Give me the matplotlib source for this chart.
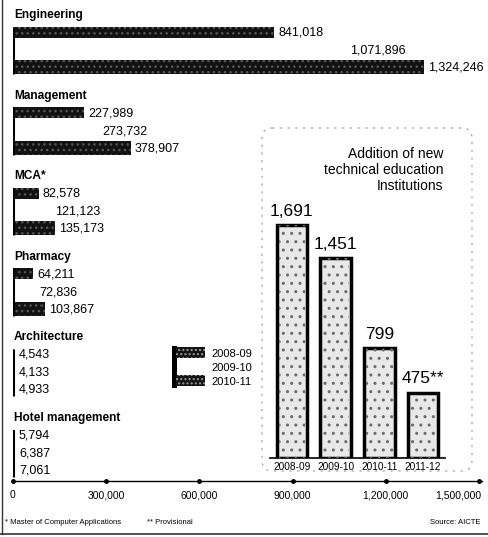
import matplotlib
matplotlib.use("Agg")
import matplotlib.pyplot as plt
from matplotlib import font_manager as fm
from matplotlib.patches import Rectangle, FancyBboxPatch

# ---------------- data ----------------
categories = ["Engineering", "Management", "MCA*", "Pharmacy", "Architecture", "Hotel management"]
years = ["2008-09", "2009-10", "2010-11"]
v_2008_09 = [841018, 227989, 82578, 64211, 4543, 5794]
v_2009_10 = [1071896, 273732, 121123, 72836, 4133, 6387]
v_2010_11 = [1324246, 378907, 135173, 103867, 4933, 7061]
x_ticks = [0, 300000, 600000, 900000, 1200000, 1500000]
x_tick_labels = ["0", "300,000", "600,000", "900,000", "1,200,000", "1,500,000"]

inst_years = ["2008-09", "2009-10", "2010-11", "2011-12"]
inst_values = [1691, 1451, 799, 475]
inst_labels = ["1,691", "1,451", "799", "475**"]

# ---------------- fonts ----------------
def pick(names):
    for n in names:
        try:
            fm.findfont(fm.FontProperties(family=n), fallback_to_default=False)
            return n
        except Exception:
            pass
    return "DejaVu Sans"

FONT = pick(["Liberation Sans Narrow", "Liberation Sans", "DejaVu Sans"])
plt.rcParams["font.family"] = [FONT, "DejaVu Sans"]

W, H = 489, 537
fig = plt.figure(figsize=(W / 100, H / 100), dpi=100)
fig.patch.set_facecolor("white")

def fx(px):
    return px / W

def fy(py):
    return 1 - py / H

DARK = "#121212"
SPECK = "#585858"

# ---------------- main horizontal bar chart ----------------
ax_left, ax_right, ax_top, ax_bot = 13, 479, 0, 481
ax = fig.add_axes([fx(ax_left), fy(ax_bot), fx(ax_right - ax_left), (ax_bot - ax_top) / H])
ax.set_xlim(0, 1500000)
ax.set_ylim(ax_bot, ax_top)
ax.axis("off")

group_top = 15.0
group_step = 80.6
bar_offsets = [17, 35, 52]
bar_h = [11, 14, 14]
series = [v_2008_09, v_2009_10, v_2010_11]
fills = [DARK, "white", DARK]

for gi, cat in enumerate(categories):
    yt = group_top + gi * group_step
    ax.text(3000, yt, cat, fontsize=8.6, fontweight="bold", va="center", ha="left",
            color="black")
    for si in range(3):
        yc = yt + bar_offsets[si]
        val = series[si][gi]
        ax.barh(yc, val, height=bar_h[si], color=fills[si], linewidth=0, zorder=2)
        if si != 1:
            ax.barh(yc, val, height=bar_h[si], color="none", edgecolor=SPECK,
                    hatch="...", linewidth=0, zorder=3)
        ax.text(val + 13000, yc + 0.5, f"{val:,}", fontsize=9, va="center", ha="left",
                color="black")
    # left bracket line
    ax.plot([0, 0], [yt + bar_offsets[0] - bar_h[0] / 2, yt + bar_offsets[2] + bar_h[2] / 2],
            color="black", lw=2.2, solid_capstyle="butt", zorder=4)

# x axis line with dots
ax.plot([0, 1510000], [ax_bot - 0.5, ax_bot - 0.5], color="black", lw=1.0, clip_on=False)
ax.plot(x_ticks, [ax_bot - 0.5] * len(x_ticks), "o", color="black", ms=2.5, clip_on=False)
for i, (t, lab) in enumerate(zip(x_ticks, x_tick_labels)):
    ha = "center"
    if i == len(x_ticks) - 1:
        ha = "right"
    ax.text(t + (9000 if ha == "right" else 0), ax_bot + 14, lab, fontsize=7.5,
            ha=ha, va="center", clip_on=False)

# ---------------- overlay (pixel coords) ----------------
ov = fig.add_axes([0, 0, 1, 1], zorder=5)
ov.set_xlim(0, W)
ov.set_ylim(H, 0)
ov.axis("off")
ov.patch.set_alpha(0)

# dashed rounded box for inset
box = FancyBboxPatch((262, 128), 210, 343, boxstyle="round,pad=0,rounding_size=10",
                     fill=False, edgecolor="#999999", lw=0.8, linestyle=(0, (2, 5)))
ov.add_patch(box)
ov.text(443, 170, "Addition of new\ntechnical education\nInstitutions", fontsize=10,
        ha="right", va="center", linespacing=1.2, color="black")

# legend
ov.add_patch(Rectangle((172, 346), 5, 42, color="black", lw=0))
for yy in (347, 375):
    ov.add_patch(Rectangle((176, yy), 29, 11, facecolor=DARK, lw=0))
    ov.add_patch(Rectangle((176, yy), 29, 11, facecolor="none", edgecolor="#9a9a9a",
                           hatch="....", lw=0))
for lab, yy in zip(years, (354, 368, 382)):
    ov.text(211, yy, lab, fontsize=8, ha="left", va="center")

# footnotes
ov.text(5, 522, "* Master of Computer Applications", fontsize=5.5, ha="left", va="center")
ov.text(147, 522, "** Provisional", fontsize=5.5, ha="left", va="center")
ov.text(480, 522, "Source: AICTE", fontsize=5.5, ha="right", va="center")
ov.plot([0, 489], [534, 534], color="#333333", lw=1.2)
ov.plot([1.5, 1.5], [0, 534], color="#333333", lw=1.0)

# ---------------- inset vertical bar chart ----------------
base_py = 458
top_val = 2000
top_py = base_py - top_val * 233 / 1691
ix = fig.add_axes([fx(270), fy(base_py), fx(175), (base_py - top_py) / H], zorder=6)
ix.patch.set_alpha(0)
ix.set_xlim(-0.5, 3.5)
ix.set_ylim(0, top_val)
xs = list(range(len(inst_values)))
ix.bar(xs, inst_values, width=0.7, color="#e8e8e8", edgecolor="black", linewidth=2.5, zorder=2)
ix.bar(xs, inst_values, width=0.6, color="none", edgecolor="#6a6a6a", hatch="..",
       linewidth=0, zorder=3)
for x, v, lab in zip(xs, inst_values, inst_labels):
    ix.text(x, v + 45, lab, fontsize=12.5, ha="center", va="bottom")
for s in ("top", "left", "right"):
    ix.spines[s].set_visible(False)
ix.spines["bottom"].set_linewidth(1.2)
ix.set_yticks([])
ix.set_xticks(xs)
ix.set_xticklabels(inst_years, fontsize=7.3)
ix.tick_params(axis="x", length=0, pad=3)

fig.savefig("out.png", dpi=100, facecolor="white")
